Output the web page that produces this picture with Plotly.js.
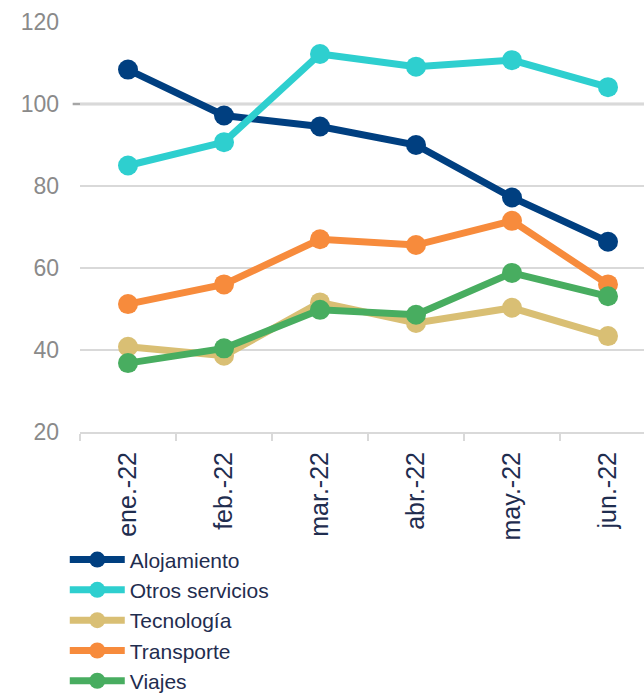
<!DOCTYPE html>
<html>
<head>
<meta charset="utf-8">
<script src="https://cdn.plot.ly/plotly-3.0.1.min.js"></script>
<style>html,body{margin:0;padding:0;background:#fff;}#chart{width:644px;height:696px;}</style>
</head>
<body>
<div id="chart"></div>
<script>
const months = ["ene.-22", "feb.-22", "mar.-22", "abr.-22", "may.-22", "jun.-22"];
const alojamiento = [108.4, 97.2, 94.5, 90.0, 77.2, 66.4];
const otrosServicios = [85.0, 90.7, 112.2, 109.1, 110.7, 104.1];
const tecnologia = [40.8, 38.6, 51.6, 46.6, 50.3, 43.4];
const transporte = [51.2, 56.0, 67.0, 65.6, 71.5, 56.0];
const viajes = [36.8, 40.4, 49.8, 48.6, 58.8, 53.1];

const seriesNames = ["Alojamiento", "Otros servicios", "Tecnología", "Transporte", "Viajes"];
const seriesValues = [alojamiento, otrosServicios, tecnologia, transporte, viajes];
const seriesColors = ["#003f80", "#2ecfcf", "#d9bf74", "#f78b3c", "#48ad60"];

const traces = seriesNames.map((name, i) => ({
  type: "scatter",
  mode: "lines+markers",
  name: name,
  x: months,
  y: seriesValues[i],
  line: {color: seriesColors[i], width: 7},
  marker: {color: seriesColors[i], size: 20}
}));

const font = "Liberation Sans, Arial, sans-serif";

const layout = {
  width: 644,
  height: 696,
  margin: {l: 80, r: 0, t: 22, b: 264, autoexpand: false},
  paper_bgcolor: "#ffffff",
  plot_bgcolor: "#ffffff",
  showlegend: true,
  legend: {
    x: -0.027, xanchor: "left",
    y: -0.262, yanchor: "top",
    orientation: "v",
    font: {family: font, size: 21, color: "#1f2d4f"},
    tracegroupgap: 0,
    itemwidth: 55,
    itemclick: false
  },
  xaxis: {
    type: "category",
    range: [-0.5, 5.375],
    showgrid: false,
    showline: true,
    linecolor: "#d9d9d9",
    linewidth: 2,
    ticks: "outside",
    tickson: "boundaries",
    ticklen: 7,
    tickwidth: 2,
    tickcolor: "#d9d9d9",
    tickangle: -90,
    ticklabelstandoff: 8,
    automargin: false,
    tickfont: {family: font, size: 25, color: "#1f2d4f"}
  },
  yaxis: {
    range: [20, 120],
    tickvals: [20, 40, 60, 80, 100, 120],
    showgrid: true,
    gridcolor: "#d9d9d9",
    gridwidth: 2,
    zeroline: false,
    showline: false,
    ticks: "",
    ticklabelstandoff: 20,
    automargin: false,
    tickfont: {family: font, size: 23, color: "#8a8a8a"}
  },
  shapes: [{
    type: "line", xref: "paper", yref: "y",
    x0: -0.013, x1: 1, y0: 100, y1: 100,
    line: {color: "#a6a6a6", width: 2.5},
    layer: "below"
  }]
};

Plotly.newPlot("chart", traces, layout, {displayModeBar: false, staticPlot: true});
</script>
</body>
</html>
